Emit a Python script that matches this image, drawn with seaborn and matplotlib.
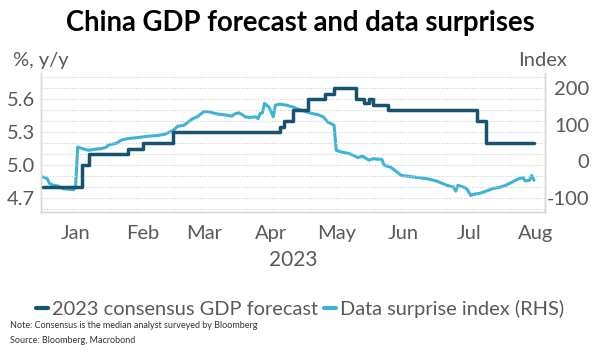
import pandas as pd
import matplotlib.pyplot as plt
from matplotlib.ticker import MultipleLocator
import seaborn as sns


# 2023 consensus GDP forecast, % y/y (step changes)
forecast_dates = [
    "2023-01-01", "2023-01-19", "2023-01-22", "2023-02-09", "2023-02-16",
    "2023-03-02", "2023-04-20", "2023-04-22", "2023-04-26", "2023-05-03",
    "2023-05-11", "2023-05-15", "2023-05-25", "2023-05-29", "2023-05-31",
    "2023-06-02", "2023-06-09", "2023-07-20", "2023-07-24", "2023-08-15",
]
forecast_values = [
    4.8, 5.0, 5.1, 5.15, 5.2,
    5.3, 5.35, 5.4, 5.5, 5.6,
    5.65, 5.7, 5.6, 5.57, 5.6,
    5.55, 5.5, 5.4, 5.2, 5.2,
]

# data surprise index (RHS)
surprise_dates = [
    "2023-01-01", "2023-01-03", "2023-01-04", "2023-01-06", "2023-01-08",
    "2023-01-10", "2023-01-13", "2023-01-15", "2023-01-16", "2023-01-17",
    "2023-01-19", "2023-01-22", "2023-01-25", "2023-01-28", "2023-01-30",
    "2023-01-31", "2023-02-02", "2023-02-04", "2023-02-06", "2023-02-09",
    "2023-02-12", "2023-02-16", "2023-02-19", "2023-02-23", "2023-02-26",
    "2023-03-02", "2023-03-04", "2023-03-07", "2023-03-08", "2023-03-10",
    "2023-03-11", "2023-03-13", "2023-03-16", "2023-03-18", "2023-03-20",
    "2023-03-23", "2023-03-26", "2023-03-29", "2023-03-30", "2023-04-01",
    "2023-04-03", "2023-04-04", "2023-04-06", "2023-04-09", "2023-04-10",
    "2023-04-11", "2023-04-12", "2023-04-13", "2023-04-14", "2023-04-15",
    "2023-04-16", "2023-04-17", "2023-04-18", "2023-04-20", "2023-04-23",
    "2023-04-26", "2023-04-29", "2023-05-02", "2023-05-05", "2023-05-08",
    "2023-05-10", "2023-05-12", "2023-05-15", "2023-05-16", "2023-05-18",
    "2023-05-22", "2023-05-24", "2023-05-26", "2023-05-28", "2023-05-30",
    "2023-05-31", "2023-06-02", "2023-06-06", "2023-06-07", "2023-06-10",
    "2023-06-15", "2023-06-18", "2023-06-23", "2023-06-27", "2023-07-01",
    "2023-07-04", "2023-07-06", "2023-07-09", "2023-07-10", "2023-07-11",
    "2023-07-14", "2023-07-15", "2023-07-17", "2023-07-18", "2023-07-21",
    "2023-07-24", "2023-07-27", "2023-07-30", "2023-08-02", "2023-08-05",
    "2023-08-08", "2023-08-10", "2023-08-11", "2023-08-13", "2023-08-14",
    "2023-08-15",
]
surprise_values = [
    -43, -48, -61, -66, -68,
    -75, -77, -78, -71, 39,
    35, 30, 33, 35, 38,
    44, 47, 50, 58, 62,
    64, 67, 69, 71, 74,
    85, 96, 99, 104, 113,
    117, 122, 136, 136, 133,
    129, 127, 124, 129, 133,
    127, 122, 120, 122, 117,
    131, 133, 159, 154, 149,
    136, 122, 154, 157, 154,
    149, 142, 136, 131, 127,
    122, 108, 99, 30, 26,
    21, 16, 10, 14, 7,
    3, 7, 5, -11, -16,
    -39, -41, -45, -48, -54,
    -61, -66, -71, -82, -66,
    -72, -75, -94, -91, -88,
    -82, -75, -72, -66, -57,
    -48, -45, -54, -52, -39,
    -52,
]

month_labels = ["Jan", "Feb", "Mar", "Apr", "May", "Jun", "Jul", "Aug"]
left_ticks = [4.7, 5.0, 5.3, 5.6]
right_ticks = [-100, 0, 100, 200]

DARK = "#17536e"
LIGHT = "#3db3d7"
GREY = "#595959"

sns.set_theme(style="white")
plt.rcParams["font.family"] = ["Lato", "DejaVu Sans"]

forecast = pd.DataFrame({"date": pd.to_datetime(forecast_dates), "value": forecast_values})
surprise = pd.DataFrame({"date": pd.to_datetime(surprise_dates), "value": surprise_values})

fig = plt.figure(figsize=(6.0, 3.53), dpi=100)
ax = fig.add_axes([0.068, 0.399, 0.84, 0.394])
ax2 = ax.twinx()

sns.lineplot(data=forecast, x="date", y="value", ax=ax, color=DARK,
             linewidth=2.5, drawstyle="steps-post", legend=False, zorder=3)
sns.lineplot(data=surprise, x="date", y="value", ax=ax2, color=LIGHT,
             linewidth=2.2, legend=False, zorder=2)
ax.set_zorder(ax2.get_zorder() + 1)
ax.patch.set_visible(False)

ax.set_xlim(pd.Timestamp("2022-12-31"), pd.Timestamp("2023-08-20"))
ax.set_ylim(4.568, 5.84)
# right axis is tied to the left one: 4.7 <-> -100, 5.7 <-> 200
ax2.set_ylim(300 * 4.568 - 1510, 300 * 5.84 - 1510)

ax.yaxis.set_major_locator(plt.FixedLocator(left_ticks))
ax.yaxis.set_minor_locator(MultipleLocator(0.1))
ax.grid(which="both", axis="y", color="#cfcfcf", linestyle=(0, (1, 1.5)), linewidth=0.8)
ax.set_yticklabels([f"{v:.1f}" for v in left_ticks])
ax2.set_yticks(right_ticks)
ax2.set_yticklabels([str(v) for v in right_ticks])
ax2.grid(False)

mids = [pd.Timestamp(f"2023-{m:02d}-16") for m in range(1, 9)]
ax.set_xticks(mids)
ax.set_xticklabels(month_labels)
ax.set_xlabel("2023", fontsize=15, color=GREY, labelpad=6)
ax.set_ylabel("")
ax2.set_ylabel("")

ax.tick_params(axis="x", length=0, pad=9, labelsize=14.5, labelcolor=GREY)
ax.tick_params(axis="y", which="both", length=0, pad=4, labelsize=14.5, labelcolor=GREY)
ax2.tick_params(axis="y", length=0, pad=32, labelsize=14.5, labelcolor=GREY)
for lab in ax2.get_yticklabels():
    lab.set_horizontalalignment("right")

for a in (ax, ax2):
    a.spines["top"].set_visible(False)
    for s in ("left", "right", "bottom"):
        a.spines[s].set_color("#d9d9d9")
        a.spines[s].set_linewidth(1.0)

fig.text(0.5, 0.935, "China GDP forecast and data surprises", ha="center", va="center",
         fontsize=19.8, fontweight="bold", color="black")
fig.text(0.022, 0.83, "%, y/y", ha="left", va="center", fontsize=14.5, color=GREY)
fig.text(0.945, 0.83, "Index", ha="right", va="center", fontsize=14.5, color=GREY)

handles = ax.get_lines()[:1] + ax2.get_lines()[:1]
fig.legend(handles, ["2023 consensus GDP forecast", "Data surprise index (RHS)"],
           loc="center", bbox_to_anchor=(0.5, 0.125), ncol=2, frameon=False,
           fontsize=14.4, handlelength=0.6, handletextpad=0.2, columnspacing=0.3,
           labelcolor=GREY)
for h in fig.legends[0].get_lines():
    h.set_linewidth(3)

fig.text(0.017, 0.079, "Note: Consensus is the median analyst surveyed by Bloomberg",
         ha="left", va="center", fontsize=6.5, color="#333333")
fig.text(0.017, 0.036, "Source: Bloomberg, Macrobond",
         ha="left", va="center", fontsize=6.5, color="#333333")

fig.savefig("out.png", dpi=100)
